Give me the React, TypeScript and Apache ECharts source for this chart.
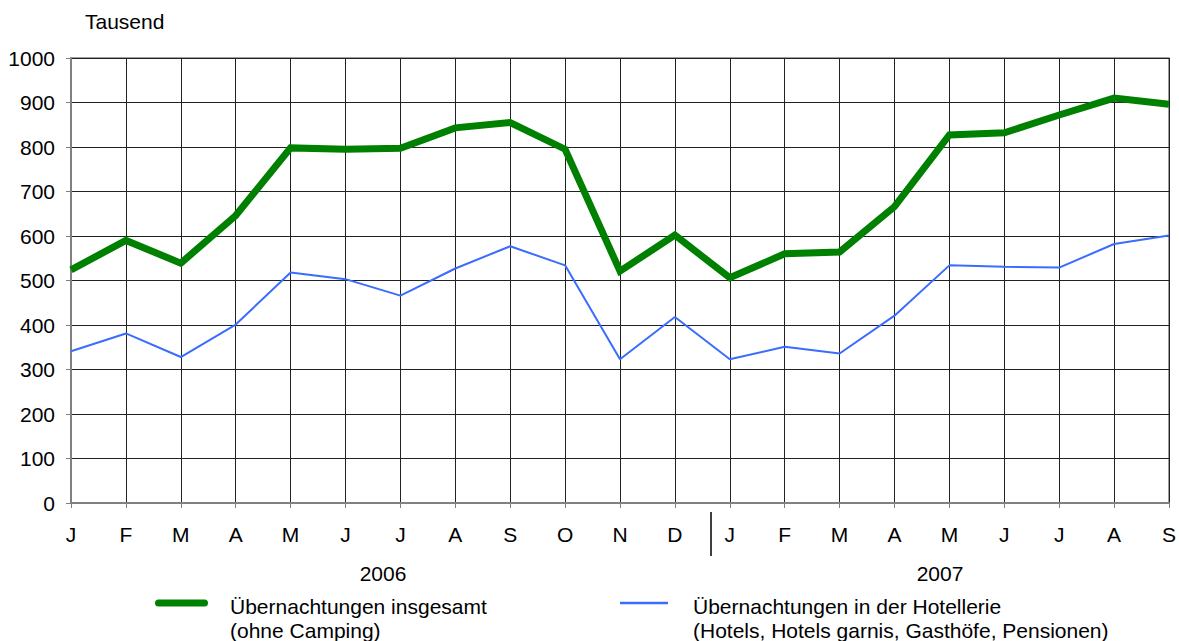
import React, { useEffect, useRef } from "react";
import * as echarts from "echarts";

const months = ["J", "F", "M", "A", "M", "J", "J", "A", "S", "O", "N", "D", "J", "F", "M", "A", "M", "J", "J", "A", "S"];
const totalName = "Übernachtungen insgesamt\n(ohne Camping)";
const hotelName = "Übernachtungen in der Hotellerie\n(Hotels, Hotels garnis, Gasthöfe, Pensionen)";
const totalValues = [524, 590, 539, 646, 798, 795, 797, 843, 855, 795, 521, 602, 506, 560, 564, 666, 827, 832, 872, 910, 896];
const hotelValues = [341, 381, 328, 401, 518, 503, 466, 527, 577, 534, 323, 418, 323, 351, 336, 421, 534, 531, 529, 582, 601];
const yearLabels = ["2006", "2007"];
const yTicks = { min: 0, max: 1000, interval: 100 };

const FONT = "Liberation Sans, Arial, sans-serif";
const FS = 21;
const GREEN = "#008000";
const BLUE = "#3a6cff";

export default function App() {
  const ref = useRef<HTMLDivElement>(null);
  useEffect(() => {
    if (!ref.current) return;
    const chart = echarts.init(ref.current, null, { renderer: "svg" });
    chart.setOption({
      animation: false,
      textStyle: { fontFamily: FONT },
      grid: { left: 71, right: 10, top: 58, bottom: 138, show: true, borderColor: "#808080", borderWidth: 1.5 },
      xAxis: {
        type: "category",
        data: months,
        boundaryGap: false,
        axisLine: { lineStyle: { color: "#808080", width: 2 } },
        axisTick: { show: true, length: 5, alignWithLabel: true, lineStyle: { color: "#808080" } },
        axisLabel: { color: "#000", fontSize: FS, margin: 21, fontFamily: FONT },
        splitLine: { show: true, lineStyle: { color: "#222", width: 1 } },
      },
      yAxis: {
        type: "value",
        min: yTicks.min,
        max: yTicks.max,
        interval: yTicks.interval,
        name: "Tausend",
        nameLocation: "end",
        nameGap: 26,
        nameTextStyle: { color: "#000", fontSize: FS, align: "left", padding: [0, 0, 0, 14], fontFamily: FONT },
        axisLine: { show: true, lineStyle: { color: "#808080", width: 2 } },
        axisTick: { show: true, length: 5, lineStyle: { color: "#808080" } },
        axisLabel: { color: "#000", fontSize: FS, margin: 16, fontFamily: FONT, formatter: (v: number) => String(v) },
        splitLine: { show: true, lineStyle: { color: "#222", width: 1 } },
      },
      graphic: [
        { type: "line", shape: { x1: 711, y1: 512, x2: 711, y2: 556 }, style: { stroke: "#000", lineWidth: 1.5 } },
        { type: "text", x: 383, y: 573, style: { text: yearLabels[0], fontSize: FS, fontFamily: FONT, fill: "#000", align: "center", verticalAlign: "middle" } },
        { type: "text", x: 940, y: 573, style: { text: yearLabels[1], fontSize: FS, fontFamily: FONT, fill: "#000", align: "center", verticalAlign: "middle" } },
        { type: "rect", shape: { x: 155, y: 599.5, width: 53, height: 7, r: 3.5 }, style: { fill: GREEN } },
        { type: "text", x: 230, y: 594, style: { text: totalName, fontSize: FS, lineHeight: 24, fontFamily: FONT, fill: "#000", verticalAlign: "top" } },
        { type: "line", shape: { x1: 620, y1: 603, x2: 668, y2: 603 }, style: { stroke: BLUE, lineWidth: 2.5 } },
        { type: "text", x: 693, y: 594, style: { text: hotelName, fontSize: FS, lineHeight: 24, fontFamily: FONT, fill: "#000", verticalAlign: "top" } },
      ],
      series: [
        {
          name: hotelName,
          type: "line",
          data: hotelValues,
          showSymbol: false,
          symbol: "none",
          lineStyle: { color: BLUE, width: 2 },
          itemStyle: { color: BLUE },
          z: 3,
        },
        {
          name: totalName,
          type: "line",
          data: totalValues,
          showSymbol: false,
          symbol: "none",
          lineStyle: { color: GREEN, width: 7, join: "miter" },
          itemStyle: { color: GREEN },
          z: 4,
        },
      ],
    });
    return () => chart.dispose();
  }, []);
  return <div ref={ref} style={{ position: "absolute", left: 0, top: 0, width: 1179, height: 641 }} />;
}
